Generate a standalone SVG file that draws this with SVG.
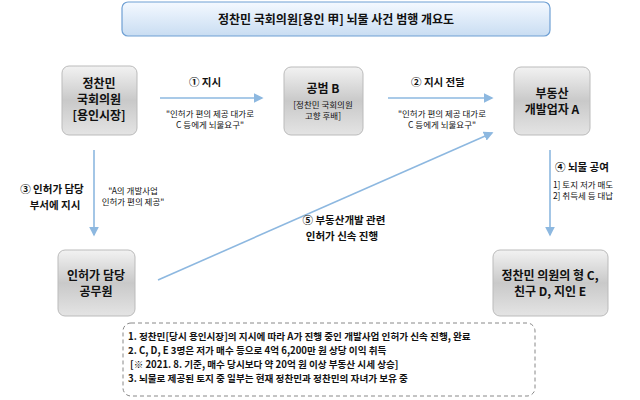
<svg xmlns="http://www.w3.org/2000/svg" width="640" height="400" viewBox="0 0 640 400">
<style>
text{font-family:"Noto Sans CJK KR","Liberation Sans",sans-serif;fill:#111;text-anchor:middle}
.n{font-size:12px;font-weight:bold}
.l{font-size:10.5px;font-weight:bold}
.s{font-size:8.5px}
.c{stroke:#8db8e0;stroke-width:1.6;fill:none;marker-end:url(#a)}
.box{stroke:#bbb;stroke-width:1}
</style>
<defs>
<linearGradient id="g" x1="0" y1="0" x2="0" y2="1"><stop offset="0" stop-color="#f2f2f2"/><stop offset="0.5" stop-color="#c9c9c9"/><stop offset="1" stop-color="#e4e4e4"/></linearGradient>
<linearGradient id="t" x1="0" y1="0" x2="0" y2="1"><stop offset="0" stop-color="#f4f9ff"/><stop offset="1" stop-color="#c9ddf2"/></linearGradient>
<marker id="a" markerWidth="6" markerHeight="6" refX="5" refY="3" orient="auto"><path d="M0,0 L6,3 L0,6 z" fill="#8db8e0"/></marker>
</defs>
<g id="title"><rect x="122" y="2" width="428" height="34" rx="6" fill="url(#t)" stroke="#6fa0d4" stroke-width="1.2"/><text x="336" y="24" class="n">정찬민 국회의원[용인 甲] 뇌물 사건 범행 개요도</text></g>
<g id="n1"><rect x="62" y="66" width="75" height="69" rx="7" fill="url(#g)" class="box"/><text x="99" y="88" class="n">정찬민</text><text x="99" y="104" class="n">국회의원</text><text x="99" y="120" class="n">[용인시장]</text></g>
<g id="n2"><rect x="284" y="67" width="79" height="68" rx="7" fill="url(#g)" class="box"/><text x="323" y="93" class="n">공범 B</text><text x="323" y="108" class="s">[정찬민 국회의원</text><text x="323" y="119" class="s">고향 후배]</text></g>
<g id="n3"><rect x="514" y="67" width="76" height="68" rx="7" fill="url(#g)" class="box"/><text x="552" y="98" class="n">부동산</text><text x="552" y="114" class="n">개발업자 A</text></g>
<g id="n4"><rect x="58" y="250" width="77" height="66" rx="7" fill="url(#g)" class="box"/><text x="96" y="280" class="n">인허가 담당</text><text x="96" y="296" class="n">공무원</text></g>
<g id="n5"><rect x="493" y="250" width="115" height="66" rx="7" fill="url(#g)" class="box"/><text x="550" y="280" class="n">정찬민 의원의 형 C,</text><text x="550" y="296" class="n">친구 D, 지인 E</text></g>
<g id="connectors">
<line x1="160" y1="98" x2="262" y2="98" class="c"/>
<line x1="388" y1="98" x2="492" y2="98" class="c"/>
<line x1="94" y1="150" x2="94" y2="235" class="c"/>
<line x1="550" y1="150" x2="550" y2="235" class="c"/>
<line x1="158" y1="280" x2="492" y2="133" class="c"/>
</g>
<g id="labels">
<text x="205" y="86" class="l">①  지시</text>
<text x="210" y="117" class="s">"인허가 편의 제공 대가로</text><text x="210" y="128" class="s">C 등에게 뇌물요구"</text>
<text x="438" y="86" class="l">② 지시 전달</text>
<text x="442" y="117" class="s">"인허가 편의 제공 대가로</text><text x="442" y="128" class="s">C 등에게 뇌물요구"</text>
<text x="52" y="193" class="l">③  인허가 담당</text><text x="55" y="209" class="l">부서에 지시</text>
<text x="133" y="194" class="s">"A의 개발사업</text><text x="133" y="205" class="s">인허가 편의 제공"</text>
<text x="582" y="171" class="l">④  뇌물 공여</text>
<text x="583" y="188" class="s">1] 토지 저가 매도</text><text x="583" y="199" class="s">2] 취득세 등 대납</text>
<text x="344" y="224" class="l">⑤  부동산개발 관련</text><text x="342" y="240" class="l">인허가 신속 진행</text>
</g>
<g id="note"><rect x="123" y="323" width="412" height="73" rx="8" fill="#fff" stroke="#888" stroke-dasharray="4,3"/>
<g style="font-size:9.6px;font-weight:bold"><text x="128" y="340" style="text-anchor:start">1. 정찬민[당시 용인시장]의 지시에 따라 A가 진행 중인 개발사업 인허가 신속 진행, 완료</text>
<text x="128" y="354" style="text-anchor:start">2. C, D, E 3명은 저가 매수 등으로 4억 6,200만 원 상당 이익 취득</text>
<text x="130" y="368" style="text-anchor:start">[※ 2021. 8. 기준, 매수 당시보다 약 20억 원 이상 부동산 시세 상승]</text>
<text x="128" y="382" style="text-anchor:start">3. 뇌물로 제공된 토지 중 일부는 현재 정찬민과 정찬민의 자녀가 보유 중</text></g></g>
</svg>
